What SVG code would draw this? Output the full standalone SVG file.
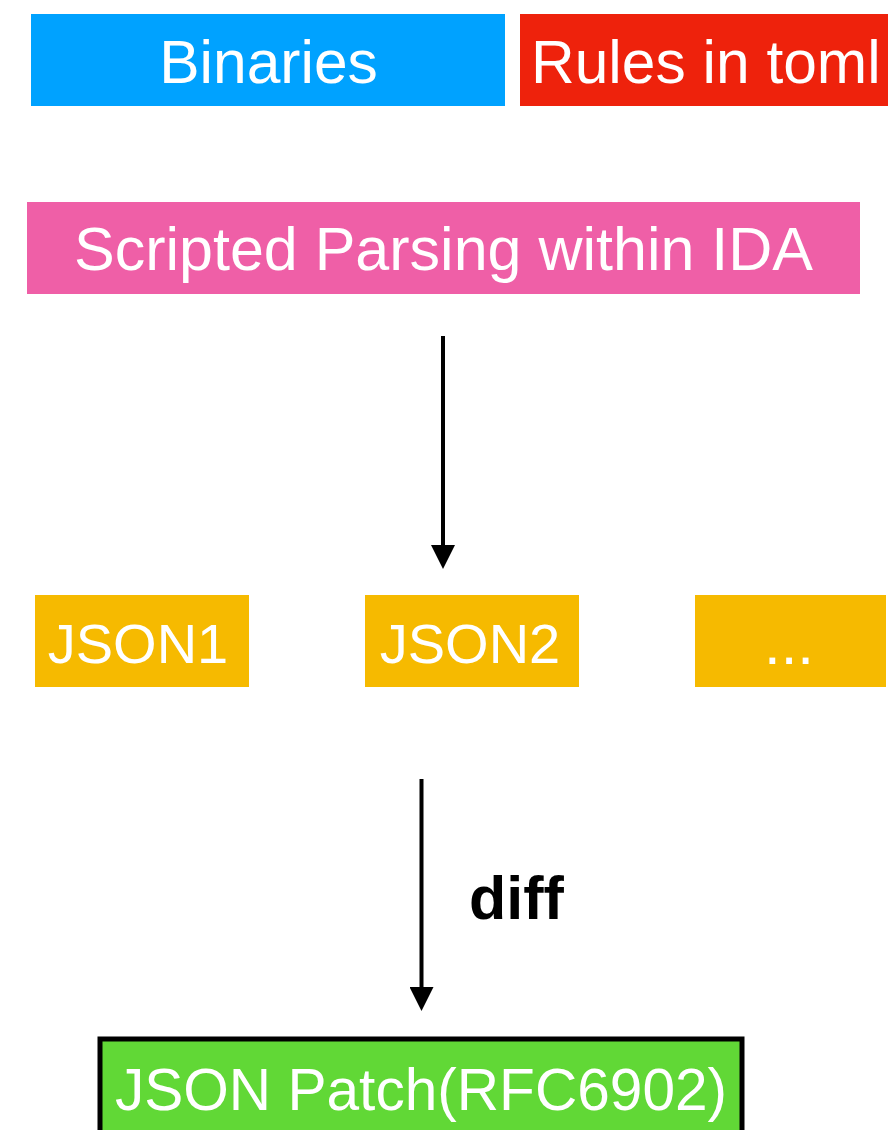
<svg xmlns="http://www.w3.org/2000/svg" width="888" height="1130" viewBox="0 0 888 1130">
<style>
.lbl{font-family:"Liberation Sans",Arial,Helvetica,sans-serif;font-size:58px;fill:#FFFFFF;text-anchor:middle}
.edge{stroke:#000;stroke-width:4;fill:none}
.edgelbl{font-family:"Liberation Sans",Arial,Helvetica,sans-serif;font-size:61px;font-weight:bold;fill:#000}
</style>
<defs>
<marker id="arr" markerUnits="userSpaceOnUse" markerWidth="26" markerHeight="24" refX="0" refY="12" orient="auto" viewBox="0 0 26 24">
<path d="M0,0 L24,12 L0,24 Z" fill="#000"/>
</marker>
</defs>
<rect width="888" height="1130" fill="#FFFFFF"/>
<g id="binaries">
<rect x="31" y="14" width="474" height="92" fill="#00A2FF"/>
<text class="lbl" x="268.5" y="83" style="font-size:60.5px">Binaries</text>
</g>
<g id="rules">
<rect x="520" y="14" width="380" height="92" fill="#EE220C"/>
<text class="lbl" x="531" y="83" style="text-anchor:start;font-size:60.5px">Rules in toml</text>
</g>
<g id="parsing">
<rect x="27" y="202" width="833" height="92" fill="#EF5FA7"/>
<text class="lbl" x="443.5" y="270" style="font-size:61px">Scripted Parsing within IDA</text>
</g>
<g id="json1">
<rect x="35" y="595" width="214" height="92" fill="#F6BA00"/>
<text class="lbl" x="138" y="663" style="font-size:56px">JSON1</text>
</g>
<g id="json2">
<rect x="365" y="595" width="214" height="92" fill="#F6BA00"/>
<text class="lbl" x="470" y="663" style="font-size:56px">JSON2</text>
</g>
<g id="more">
<rect x="695" y="595" width="191" height="92" fill="#F6BA00"/>
<text class="lbl" x="789" y="664" style="font-size:60px">...</text>
</g>
<g id="patch">
<rect x="100" y="1039" width="642" height="110" fill="#61D836" stroke="#000" stroke-width="5"/>
<text class="lbl" x="421" y="1110" style="font-size:58.6px">JSON Patch(RFC6902)</text>
</g>
<g id="connectors">
<line class="edge" x1="443" y1="336" x2="443" y2="545" marker-end="url(#arr)"/>
<line class="edge" x1="421.5" y1="779" x2="421.5" y2="987" marker-end="url(#arr)"/>
<text class="edgelbl" x="469" y="919">diff</text>
</g>
</svg>
